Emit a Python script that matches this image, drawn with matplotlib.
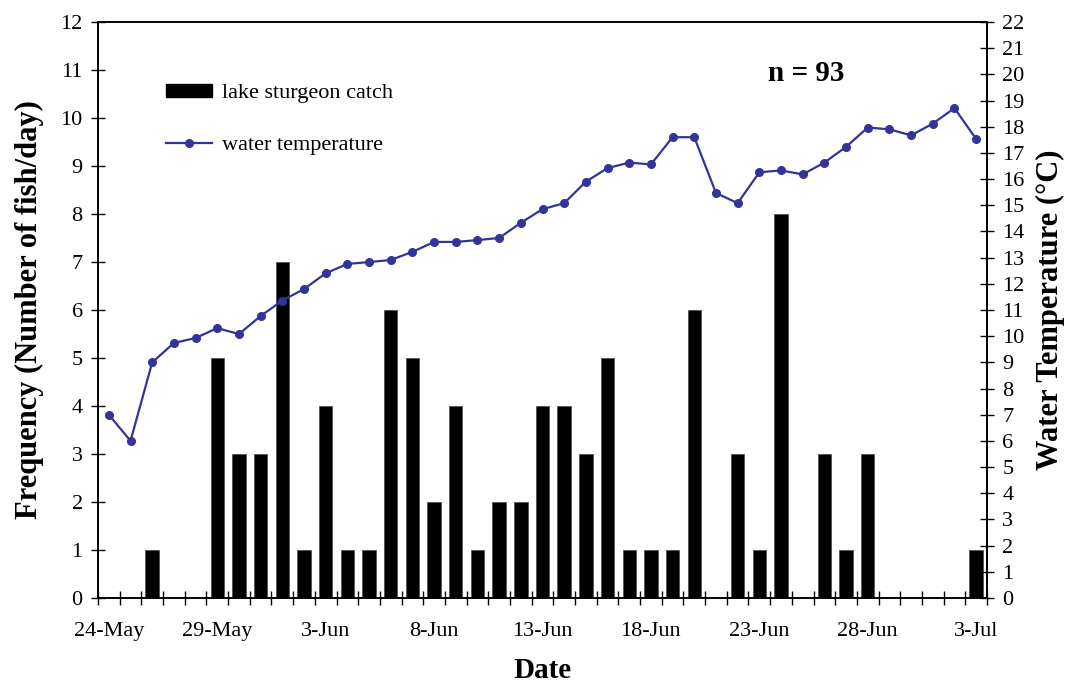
import matplotlib
matplotlib.use("Agg")
import matplotlib.pyplot as plt
import numpy as np
import pandas as pd
from matplotlib.patches import Patch
from matplotlib.lines import Line2D

# ---- data ----
dates = pd.date_range("2005-05-24", "2005-07-03", freq="D")
catch = [0, 0, 1, 0, 0, 5, 3, 3, 7, 1, 4, 1, 1, 6, 5, 2, 4, 1, 2, 2,
         4, 4, 3, 5, 1, 1, 1, 6, 0, 3, 1, 8, 0, 3, 1, 3, 0, 0, 0, 0, 1]
temperature = [7.0, 6.0, 9.0, 9.74, 9.93, 10.31, 10.08, 10.77, 11.36, 11.8,
               12.4, 12.76, 12.83, 12.91, 13.22, 13.6, 13.6, 13.67, 13.75, 14.33,
               14.85, 15.08, 15.9, 16.42, 16.63, 16.56, 17.6, 17.6, 15.47, 15.08,
               16.26, 16.33, 16.18, 16.63, 17.23, 17.97, 17.9, 17.67, 18.12, 18.71, 17.53]
tick_labels = ["24-May", "29-May", "3-Jun", "8-Jun", "13-Jun", "18-Jun",
               "23-Jun", "28-Jun", "3-Jul"]
n_label = "n = 93"

plt.rcParams['font.family'] = ['Liberation Serif', 'DejaVu Serif']

fig = plt.figure(figsize=(10.66, 6.89), dpi=100)
ax = fig.add_axes([98/1066, (689-598)/689, (987-98)/1066, (598-22)/689])
x = np.arange(len(dates))

ax.bar(x, catch, width=0.62, color='black', edgecolor='#555555', linewidth=0.6, zorder=2)
ax.set_xlim(-0.5, len(dates) - 0.5)
ax.set_ylim(0, 12)
ax.set_yticks(np.arange(0, 13, 1))

# category ticks at boundaries, labels every 5 days
ax.set_xticks(np.arange(len(dates) + 1) - 0.5, minor=True)
ax.set_xticks(x[::5])
ax.set_xticklabels(tick_labels)
ax.tick_params(axis='x', which='major', length=0, pad=17, labelsize=16)
ax.tick_params(axis='x', which='minor', direction='inout', length=10, width=1)
ax.tick_params(axis='y', direction='inout', length=10, width=1, labelsize=16, pad=6)

for s in ax.spines.values():
    s.set_linewidth(1.2)

ax2 = ax.twinx()
ax2.plot(x, temperature, color='#333399', lw=1.6, marker='o', ms=5.5, zorder=3)
ax2.set_ylim(0, 22)
ax2.set_yticks(np.arange(0, 23, 1))
ax2.tick_params(axis='y', direction='inout', length=10, width=1, labelsize=16, pad=6)
for s in ax2.spines.values():
    s.set_linewidth(1.2)

ax.set_ylabel("Frequency (Number of fish/day)", fontsize=22, fontweight='bold', labelpad=12)
ax2.set_ylabel("Water Temperature (\u00b0C)", fontsize=22, fontweight='bold', labelpad=8)
ax.set_xlabel("Date", fontsize=21, fontweight='bold', labelpad=12)

ax2.text(0.797, 0.91, n_label, transform=ax.transAxes, fontsize=21, fontweight='bold',
         ha='center', va='center')

handles = [Patch(facecolor='black', edgecolor='black', label='lake sturgeon catch'),
           Line2D([0], [0], color='#333399', lw=1.6, marker='o', ms=5.5, label='water temperature')]
ax2.legend(handles=handles, loc='upper left', bbox_to_anchor=(0.077, 0.893), frameon=False,
           fontsize=16, handlelength=2.05, handleheight=0.55, handletextpad=0.45,
           labelspacing=1.45, borderpad=0, borderaxespad=0)

fig.savefig("out.png", dpi=100)
